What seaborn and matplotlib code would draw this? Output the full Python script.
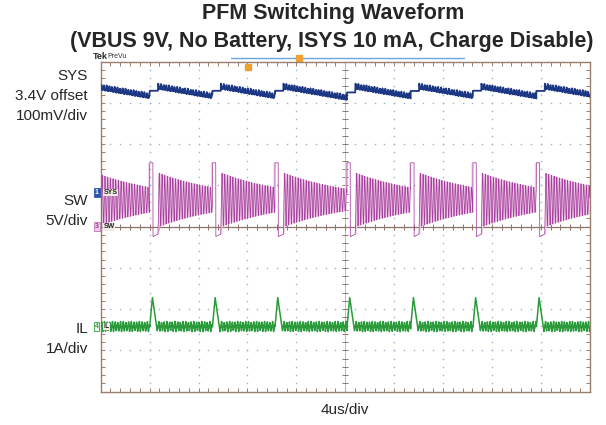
import numpy as np
import pandas as pd
import matplotlib
matplotlib.use("Agg")
import matplotlib.pyplot as plt
import seaborn as sns

# ---------------- values ----------------
title_lines = ["PFM Switching Waveform",
               "(VBUS 9V, No Battery, ISYS 10 mA, Charge Disable)"]
sys_labels = ["SYS", "3.4V offset", "100mV/div"]
sw_labels = ["SW", "5V/div"]
il_labels = ["IL", "1A/div"]
x_label = "4us/div"

us_per_div = 4.0
n_xdiv, n_ydiv = 10, 8

# start of each switching burst (us); the first one is just before the screen
pulse_start_us = [-1.1, 4.01, 9.14, 14.26, 20.15, 25.36, 30.45, 35.64]

# channel scales (unit/div) and ground-marker positions (div)
sys_scale_v, sys_offset_v, sys_marker_div = 0.1, 3.4, 4.83
sw_scale_v, sw_marker_div = 5.0, 4.0
il_scale_a, il_marker_div = 1.0, 1.58

# SW node
sw_high_v = 7.75
sw_low_v = -1.2
sw_high_us = 0.27
sw_low_us = 0.41
sw_ring_center_v = 3.25
sw_ring_amp_v = 3.3
sw_ring_tau_us = 5.7
ring_period_us = 0.22

# SYS rail
sys_step_v = 0.010
sys_peak_v = 3.656
sys_slope_v_per_us = -0.0052
sys_ripple_v = 0.005

# inductor current
il_peak_a = 0.70
il_peak_us = 0.22
il_dip_a = -0.12
il_dip_us = 0.62
il_ripple_a = 0.09

# ---------------- build traces from the read values ----------------
starts = np.array(pulse_start_us)
t = np.arange(0.0, n_xdiv * us_per_div + 1e-9, 0.01)
idx = np.searchsorted(starts, t, side="right") - 1
t0 = starts[idx]
dt = t - t0
gap = np.where(idx > 0, starts[idx] - starts[np.maximum(idx - 1, 0)], 5.1)
ring_start = sw_high_us + sw_low_us
tr = np.clip(dt - ring_start, 0, None)
phase = 2 * np.pi * tr / ring_period_us

ring = sw_ring_center_v - sw_ring_amp_v * np.exp(-tr / sw_ring_tau_us) * np.cos(phase)
low_part = sw_low_v + 0.3 * (dt - sw_high_us) / sw_low_us
sw = np.where(dt < sw_high_us, sw_high_v, np.where(dt < ring_start, low_part, ring))

sys_before = sys_peak_v + sys_slope_v_per_us * (gap - ring_start)
sys_main = sys_peak_v + sys_slope_v_per_us * tr
sys_v = np.where(dt < ring_start, sys_before + sys_step_v, sys_main)
sys_v = (sys_v + sys_ripple_v * np.sin(phase + 0.8)
         + 0.4 * sys_ripple_v * np.sin(2 * phase) + 0.3 * sys_ripple_v * np.sin(3.7 * phase))

il_rise = il_peak_a * dt / il_peak_us
il_fall = il_peak_a + (il_dip_a - il_peak_a) * (dt - il_peak_us) / (il_dip_us - il_peak_us)
trip = 2 * np.pi * (dt - il_dip_us) / ring_period_us
il_rip = -il_ripple_a * np.cos(trip) + 0.03 * np.sin(2 * trip) + 0.02 * np.sin(3.7 * trip)
il = np.where(dt < il_peak_us, il_rise, np.where(dt < il_dip_us, il_fall, il_rip))

df = pd.DataFrame({
    "t": t,
    "SYS": sys_marker_div + (sys_v - sys_offset_v) / sys_scale_v,
    "SW": sw_marker_div + sw / sw_scale_v,
    "IL": il_marker_div + il / il_scale_a,
})
sw_hi = df["SW"].rolling(27, center=True, min_periods=1).max()
sw_lo = df["SW"].rolling(27, center=True, min_periods=1).min()
ringing = pd.Series(dt >= ring_start)

# ---------------- drawing ----------------
sns.set_style("white")
plt.rcParams["font.family"] = ["Liberation Sans", "DejaVu Sans"]

W, H = 606, 425
fig = plt.figure(figsize=(W / 100, H / 100), dpi=100)
L, R, T, B = 100.7, 589.7, 61.7, 391.7
ax = fig.add_axes([L / W, 1 - B / H, (R - L) / W, (B - T) / H])
xmax = n_xdiv * us_per_div
ax.set_xlim(0, xmax)
ax.set_ylim(0, n_ydiv)

border = "#9a7e70"
dotc = "#9fb3c8"

# dotted graticule
gx, gy = [], []
minor_y = np.arange(1, n_ydiv * 5) * 0.2
minor_x = np.arange(1, n_xdiv * 5) * 0.2 * us_per_div
for k in range(1, n_xdiv):
    if k == n_xdiv // 2:
        continue
    gx += [k * us_per_div] * len(minor_y)
    gy += list(minor_y)
for k in range(1, n_ydiv):
    if k == n_ydiv // 2:
        continue
    gx += list(minor_x)
    gy += [k] * len(minor_x)
ax.scatter(gx, gy, s=1.3, color=dotc, linewidths=0, zorder=1)

# centre cross
ax.axhline(n_ydiv / 2, color="#8c7468", lw=0.9, zorder=1)
ax.axvline(xmax / 2, color="#bcaea6", lw=0.6, zorder=1)
ax.plot(minor_x, [n_ydiv / 2] * len(minor_x), ls="none", marker="|", ms=4,
        mew=0.7, color="#8c7468", zorder=1)
ax.plot([xmax / 2] * len(minor_y), minor_y, ls="none", marker="_", ms=4,
        mew=0.7, color="#8c7468", zorder=1)

# traces
ax.fill_between(df["t"], sw_lo, sw_hi, where=ringing, color="#efd2ea",
                lw=0, zorder=2)
sns.lineplot(data=df, x="t", y="SW", ax=ax, color="#a8409f", lw=0.55,
             estimator=None, zorder=3)
sns.lineplot(data=df, x="t", y="SYS", ax=ax, color="#1c3784", lw=1.3,
             estimator=None, zorder=3)
sns.lineplot(data=df, x="t", y="IL", ax=ax, color="#2a9a3a", lw=1.1,
             estimator=None, zorder=3)

# frame and ticks
for s in ax.spines.values():
    s.set_color(border)
    s.set_linewidth(1.0)
ax.set_xticks(np.arange(0, n_xdiv * 5 + 1) * 0.2 * us_per_div)
ax.set_yticks(np.arange(0, n_ydiv * 5 + 1) * 0.2)
ax.tick_params(direction="in", length=3, width=0.7, color=border,
               top=True, right=True, bottom=True, left=True,
               labelbottom=False, labelleft=False)
ax.set_xlabel("")
ax.set_ylabel("")

# trigger markers
ax.plot([3.01 * us_per_div], [7.88], marker="s", ms=4, color="#f0a030",
        clip_on=False, zorder=5)
ax.plot([0.2665, 0.743], [1.0127, 1.0127], transform=ax.transAxes,
        color="#6aa6dc", lw=1.0, clip_on=False)
ax.plot([0.4055], [1.0127], transform=ax.transAxes, marker="s", ms=4,
        color="#f0a030", clip_on=False)

# channel markers
def chan_marker(ydiv, num, fc, ec, tc, name):
    ax.text(-0.34, ydiv, num, fontsize=5, color=tc, ha="center", va="center",
            fontweight="bold", clip_on=False, zorder=6,
            bbox=dict(boxstyle="square,pad=0.15", fc=fc, ec=ec, lw=0.6))
    ax.text(0.25, ydiv, name, fontsize=5, color="#222222", ha="left",
            va="center", fontweight="bold", zorder=6,
            bbox=dict(boxstyle="square,pad=0.05", fc="#f3ece6", ec="none"))

chan_marker(sys_marker_div, "1", "#2b55a8", "#2b55a8", "white", "SYS")
chan_marker(sw_marker_div, "3", "#ecd0e8", "#b878b0", "#9a3a92", "SW")
chan_marker(il_marker_div, "4", "#eef8ee", "#30a040", "#30a040", "IL")

# texts
def ftext(x, y, s, **kw):
    fig.text(x / W, 1 - y / H, s, **kw)

ftext(333, 14, title_lines[0], fontsize=15.5, fontweight="bold", ha="center", va="center")
ftext(332, 41, title_lines[1], fontsize=15.5, fontweight="bold", ha="center", va="center")
ftext(93, 56.5, "Tek", fontsize=6.5, fontweight="bold", ha="left", va="center")
ftext(107, 56, "PreVu", fontsize=5, color="#333333", ha="left", va="center")

for i, s in enumerate(sys_labels):
    ftext(88, 76 + 20 * i, s, fontsize=11, ha="right", va="center")
for i, s in enumerate(sw_labels):
    ftext(88, 201 + 20 * i, s, fontsize=11, ha="right", va="center")
for i, s in enumerate(il_labels):
    ftext(88, 329 + 20 * i, s, fontsize=11, ha="right", va="center")
ftext(345, 410, x_label, fontsize=11, ha="center", va="center")

fig.savefig("out.png", dpi=100)
